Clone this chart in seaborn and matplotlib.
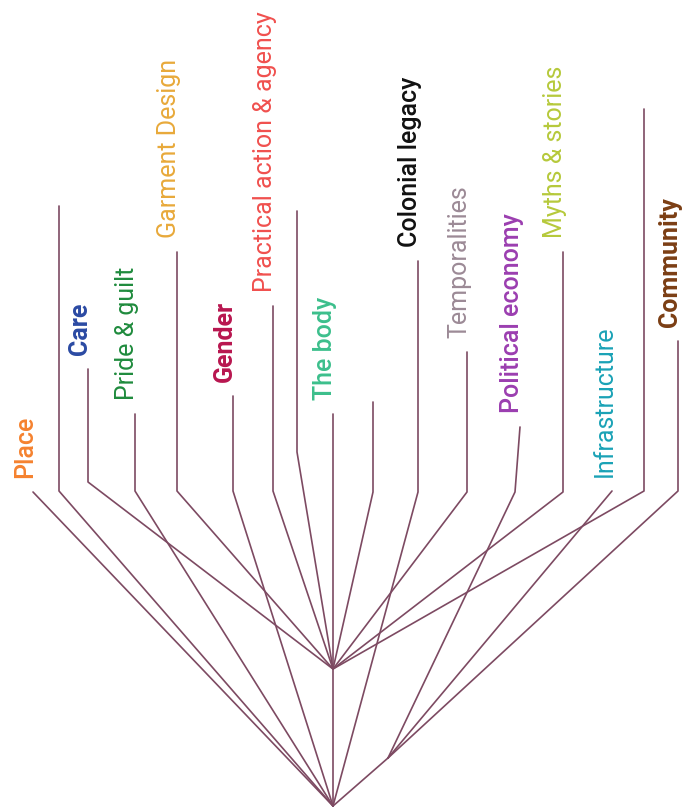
import pandas as pd
import matplotlib.pyplot as plt
import seaborn as sns

sns.set_style('white')
plt.rcParams['font.family'] = ['Roboto', 'DejaVu Sans']

# ── tree data (pixel space of the original figure) ─────────
labels = ['Place', '', 'Care', 'Pride & guilt', 'Garment Design', 'Gender',
          'Practical action & agency', '', 'The body', '', 'Colonial legacy',
          'Temporalities', 'Political economy', 'Myths & stories',
          'Infrastructure', '', 'Community']
colors = ['#F5822F', None, '#2B4AA3', '#1F8B3D', '#E8A93A', '#B8164F',
          '#F0504E', None, '#3CBF8C', None, '#111111',
          '#9C8A96', '#9B3EB0', '#B6C93B', '#1AA2B6', None, '#7B3E14']
weights = ['medium', None, 'bold', 'normal', 'normal', 'bold',
           'normal', None, 'medium', None, 'medium',
           'normal', 'medium', 'normal', 'normal', None, 'bold']
top_x  = [33, 59, 88, 135, 177, 233, 273, 297, 333, 373, 418, 467, 520, 563, 612, 644, 678]
top_y  = [493, 207, 370, 415, 253, 397, 307, 212, 415, 403, 262, 353, 428, 253, 492, 110, 342]
bend_x = [33, 59, 88, 135, 177, 233, 273, 297, 333, 373, 418, 467, 515, 563, 612, 644, 678]
bend_y = [493, 492, 483, 492, 492, 492, 492, 453, 415, 493, 493, 493, 493, 493, 492, 492, 492]
parent = ['R', 'R', 'A', 'R', 'A', 'R', 'A', 'A', 'A', 'A', 'R', 'A', 'B', 'A', 'B', 'A', 'B']

node_names = ['R', 'A', 'B']
node_x = [333, 333, 388]
node_y = [807, 670, 759]
node_parent = [None, 'R', 'R']

LINE = '#7D4A62'

nodes = {n: (x, y) for n, x, y in zip(node_names, node_x, node_y)}
rows = []
for i in range(len(labels)):
    px, py = nodes[parent[i]]
    for x, y in [(top_x[i], top_y[i]), (bend_x[i], bend_y[i]), (px, py)]:
        rows.append({'edge': f'leaf{i}', 'x': x, 'y': y})
for n, p in zip(node_names, node_parent):
    if p is None:
        continue
    for x, y in [nodes[n], nodes[p]]:
        rows.append({'edge': f'node{n}', 'x': x, 'y': y})
edges = pd.DataFrame(rows)

fig = plt.figure(figsize=(6.82, 8.12), dpi=100)
ax = fig.add_axes([0, 0, 1, 1])
sns.lineplot(data=edges, x='x', y='y', units='edge', estimator=None, sort=False,
             color=LINE, linewidth=1.2, ax=ax)

for i, lab in enumerate(labels):
    if not lab:
        continue
    ax.annotate(lab, (top_x[i], top_y[i]), xytext=(-5.5, 11), textcoords='offset points',
                rotation=90, ha='center', va='bottom', fontsize=18,
                color=colors[i], fontweight=weights[i])

ax.set_xlim(0, 682)
ax.set_ylim(812, 0)
ax.axis('off')
fig.savefig('out.png', dpi=100)
